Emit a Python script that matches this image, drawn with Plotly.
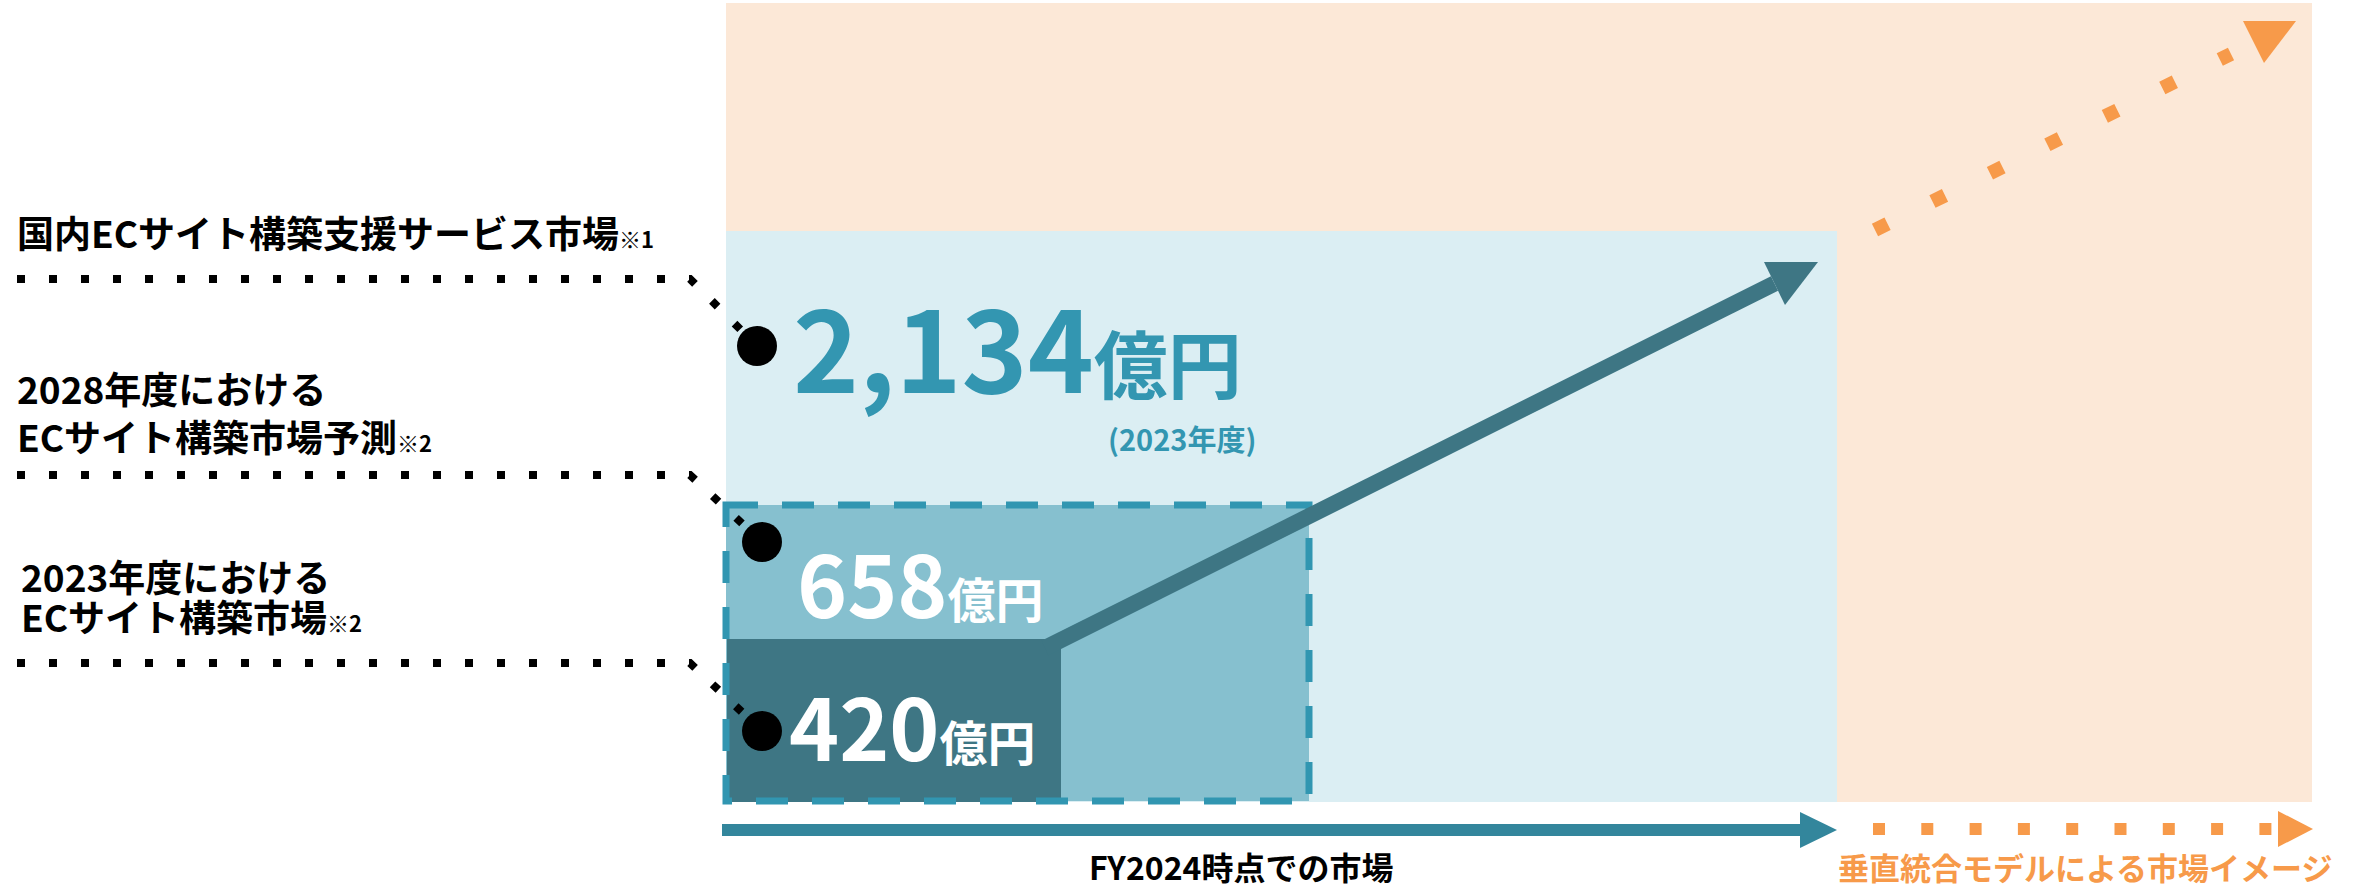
import plotly.graph_objects as go

# ---------------- data ----------------
market_labels = [
    ["国内ECサイト構築支援サービス市場"],
    ["2028年度における", "ECサイト構築市場予測"],
    ["2023年度における", "ECサイト構築市場"],
]
market_notes = ["※1", "※2", "※2"]
market_values = [2134, 658, 420]          # 億円
value_unit = "億円"
base_year_note = "(2023年度)"
axis_labels = ["FY2024時点での市場", "垂直統合モデルによる市場イメージ"]

# ---------------- geometry (pixel space) ----------------
W, H = 2372, 890
FONT = "Noto Sans CJK JP"

ORANGE_BG = "#FCE8D7"
LIGHT_BLUE = "#DBEEF3"
MID_BLUE = "#86C0CF"
DASH_TEAL = "#3196B1"
DARK_TEAL = "#3E7684"
AXIS_TEAL = "#33869C"
ORANGE = "#F79A4A"
NUM_TEAL = "#3396B1"

# market areas: (x0, x1, y0, y1)
area_future = (726, 2312, 3, 802)
area_service = (726, 1837, 231, 802)
area_forecast = (726, 1309, 505, 801)
area_current = (727, 1061, 639, 802)

# leader lines: row y, end of horizontal run, dot centre
leader_rows = [279, 475, 663]
leader_x = (17, 690)
dot_centres = [(757, 346), (762, 542), (762, 731)]

# label blocks: x, middle y, base size (sets line pitch), glyph size
label_pos = [(15, 232, 37, 37), (15, 412, 37, 37), (19, 596, 31, 37)]

# growth arrow
growth_start = (1045, 648)
growth_base = (1774.5, 283.5)
growth_head = [(1764, 262), (1818, 262), (1785, 305)]

# dotted extension
ext_start = (1875, 230)
ext_end = (2231, 54)
ext_head = [(2243, 21), (2296, 21), (2264, 63)]

# bottom axes
axis_y = 830
axis_now = (722, 1801)
axis_now_head = [(1800, 812), (1800, 848), (1837, 830)]
axis_future = (1873, 2271.4)
axis_future_head = [(2278, 811), (2278, 847), (2313, 829)]

fig = go.Figure()

# ---------------- areas ----------------
def rect(box, fill, **kw):
    x0, x1, y0, y1 = box
    d = dict(type="rect", xref="x", yref="y", x0=x0, x1=x1, y0=y0, y1=y1,
             fillcolor=fill, line=dict(width=0), layer="below")
    d.update(kw)
    return d

shapes = [
    rect(area_future, ORANGE_BG),
    rect(area_service, LIGHT_BLUE),
    rect(area_forecast, MID_BLUE),
    rect(area_current, DARK_TEAL),
    rect(area_forecast, "rgba(0,0,0,0)",
         line=dict(color=DASH_TEAL, width=7, dash="32px,24px")),
]

def tri(pts, color):
    p = "M {},{} L {},{} L {},{} Z".format(*[c for pt in pts for c in pt])
    return dict(type="path", xref="x", yref="y", path=p, fillcolor=color,
                line=dict(width=0), layer="above")

shapes += [tri(growth_head, DARK_TEAL), tri(ext_head, ORANGE),
           tri(axis_now_head, AXIS_TEAL), tri(axis_future_head, ORANGE)]

# ---------------- leaders ----------------
for ry, (cx, cy) in zip(leader_rows, dot_centres):
    fig.add_trace(go.Scatter(
        x=[leader_x[0], leader_x[1], cx], y=[ry, ry, cy], mode="lines",
        line=dict(color="black", width=8, dash="8px,24px"),
        hoverinfo="skip"))

fig.add_trace(go.Scatter(
    x=[c[0] for c in dot_centres], y=[c[1] for c in dot_centres],
    mode="markers", marker=dict(color="black", size=40, line=dict(width=0)),
    hoverinfo="skip"))

# ---------------- arrows ----------------
fig.add_trace(go.Scatter(
    x=[growth_start[0], growth_base[0]], y=[growth_start[1], growth_base[1]],
    mode="lines", line=dict(color=DARK_TEAL, width=16), hoverinfo="skip"))
fig.add_trace(go.Scatter(
    x=[ext_start[0], ext_end[0]], y=[ext_start[1], ext_end[1]],
    mode="lines", line=dict(color=ORANGE, width=14, dash="14px,50.1px"),
    hoverinfo="skip"))
fig.add_trace(go.Scatter(
    x=list(axis_now), y=[axis_y, axis_y], mode="lines",
    line=dict(color=AXIS_TEAL, width=12), hoverinfo="skip"))
fig.add_trace(go.Scatter(
    x=list(axis_future), y=[axis_y - 1, axis_y - 1], mode="lines",
    line=dict(color=ORANGE, width=12, dash="12px,36.3px"), hoverinfo="skip"))

# ---------------- text ----------------
ann = []
for (lx, ly, base, size), lines, note in zip(label_pos, market_labels, market_notes):
    body = "<br>".join(
        f"<span style='font-size:{size}px'>{t}</span>" for t in lines)
    body += f"<span style='font-size:22px'>{note}</span>"
    ann.append(dict(x=lx, y=ly, xref="x", yref="y", text=f"<b>{body}</b>",
                    showarrow=False, xanchor="left", yanchor="middle",
                    align="left",
                    font=dict(family=FONT, size=base, color="black")))

value_style = [
    # x, middle y, digit size, unit size, colour
    (791, 344, 112, 74, NUM_TEAL),
    (795, 580, 85, 48, "white"),
    (787, 723, 85, 48, "white"),
]
for v, (vx, vy, ds, us, col) in zip(market_values, value_style):
    ann.append(dict(
        x=vx, y=vy, xref="x", yref="y", showarrow=False,
        xanchor="left", yanchor="middle",
        text=f"<b>{v:,}<span style='font-size:{us}px'>{value_unit}</span></b>",
        font=dict(family=FONT, size=ds, color=col)))

ann.append(dict(x=1258, y=438, xref="x", yref="y", showarrow=False,
                xanchor="right", yanchor="middle", text=f"<b>{base_year_note}</b>",
                font=dict(family=FONT, size=29, color=NUM_TEAL)))

ann.append(dict(x=1087, y=866, xref="x", yref="y", showarrow=False,
                xanchor="left", yanchor="middle", text=f"<b>{axis_labels[0]}</b>",
                font=dict(family=FONT, size=32, color="black")))
ann.append(dict(x=1836, y=866, xref="x", yref="y", showarrow=False,
                xanchor="left", yanchor="middle", text=f"<b>{axis_labels[1]}</b>",
                font=dict(family=FONT, size=31, color=ORANGE)))

fig.update_layout(
    width=W, height=H, margin=dict(l=0, r=0, t=0, b=0, pad=0),
    paper_bgcolor="white", plot_bgcolor="white",
    showlegend=False, hovermode=False,
    shapes=shapes, annotations=ann,
    xaxis=dict(range=[0, W], visible=False, fixedrange=True),
    yaxis=dict(range=[H, 0], visible=False, fixedrange=True),
)

fig.write_html("out.html", config={"displayModeBar": False})
